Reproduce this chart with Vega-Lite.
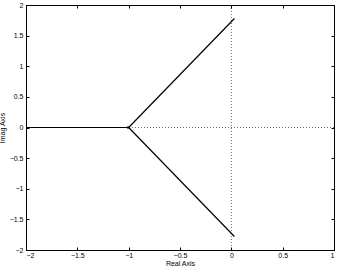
{
  "$schema": "https://vega.github.io/schema/vega-lite/v6.json",
  "autosize": "none",
  "width": 308,
  "height": 245,
  "padding": {"left": 26, "top": 5, "right": 3, "bottom": 25},
  "background": "white",
  "config": {
    "view": {"stroke": "black", "strokeWidth": 1},
    "axis": {"labelFont": "Liberation Sans", "titleFont": "Liberation Sans", "labelFontSize": 7, "titleFontSize": 7, "titleFontWeight": "normal", "labelColor": "black", "titleColor": "black", "domainColor": "black", "tickColor": "black", "grid": false, "tickSize": -3, "labelPadding": 6, "format": "~g"}
  },
  "datasets": {
    "locus": [
      {"branch": "a", "k": 0, "x": -1, "y": 0},
      {"branch": "a", "k": 1, "x": -2, "y": 0},
      {"branch": "b", "k": 0, "x": -1, "y": 0},
      {"branch": "b", "k": 1, "x": 0.03, "y": 1.78},
      {"branch": "c", "k": 0, "x": -1, "y": 0},
      {"branch": "c", "k": 1, "x": 0.03, "y": -1.78}
    ],
    "hz": [{"y": 0}],
    "vt": [{"x": 0}],
    "poles": [{"x": -1, "y": 0}]
  },
  "layer": [
    {
      "data": {"name": "hz"},
      "mark": {"type": "rule", "strokeDash": [1, 2], "color": "black", "strokeWidth": 0.6},
      "encoding": {"y": {"field": "y", "type": "quantitative", "axis": null}}
    },
    {
      "data": {"name": "vt"},
      "mark": {"type": "rule", "strokeDash": [1, 2], "color": "black", "strokeWidth": 0.6},
      "encoding": {"x": {"field": "x", "type": "quantitative", "axis": null}}
    },
    {
      "data": {"name": "locus"},
      "mark": {"type": "line", "color": "black", "strokeWidth": 1.2},
      "encoding": {
        "x": {"field": "x", "type": "quantitative", "scale": {"domain": [-2, 1], "nice": false}, "axis": {"title": "Real Axis", "values": [-2, -1.5, -1, -0.5, 0, 0.5, 1], "labelPadding": 4, "titlePadding": 1}},
        "y": {"field": "y", "type": "quantitative", "scale": {"domain": [-2, 2], "nice": false}, "axis": {"title": "Imag Axis", "values": [-2, -1.5, -1, -0.5, 0, 0.5, 1, 1.5, 2], "titlePadding": 4}},
        "detail": {"field": "branch"},
        "order": {"field": "k"}
      }
    },
    {
      "data": {"name": "poles"},
      "mark": {"type": "point", "shape": "cross", "angle": 45, "color": "black", "size": 12, "filled": true},
      "encoding": {
        "x": {"field": "x", "type": "quantitative", "axis": {"orient": "top", "title": null, "labels": false, "domain": false, "values": [-2, -1.5, -1, -0.5, 0, 0.5, 1]}},
        "y": {"field": "y", "type": "quantitative", "axis": {"orient": "right", "title": null, "labels": false, "domain": false, "values": [-2, -1.5, -1, -0.5, 0, 0.5, 1, 1.5, 2]}}
      }
    }
  ],
  "resolve": {"axis": {"x": "independent", "y": "independent"}}
}
